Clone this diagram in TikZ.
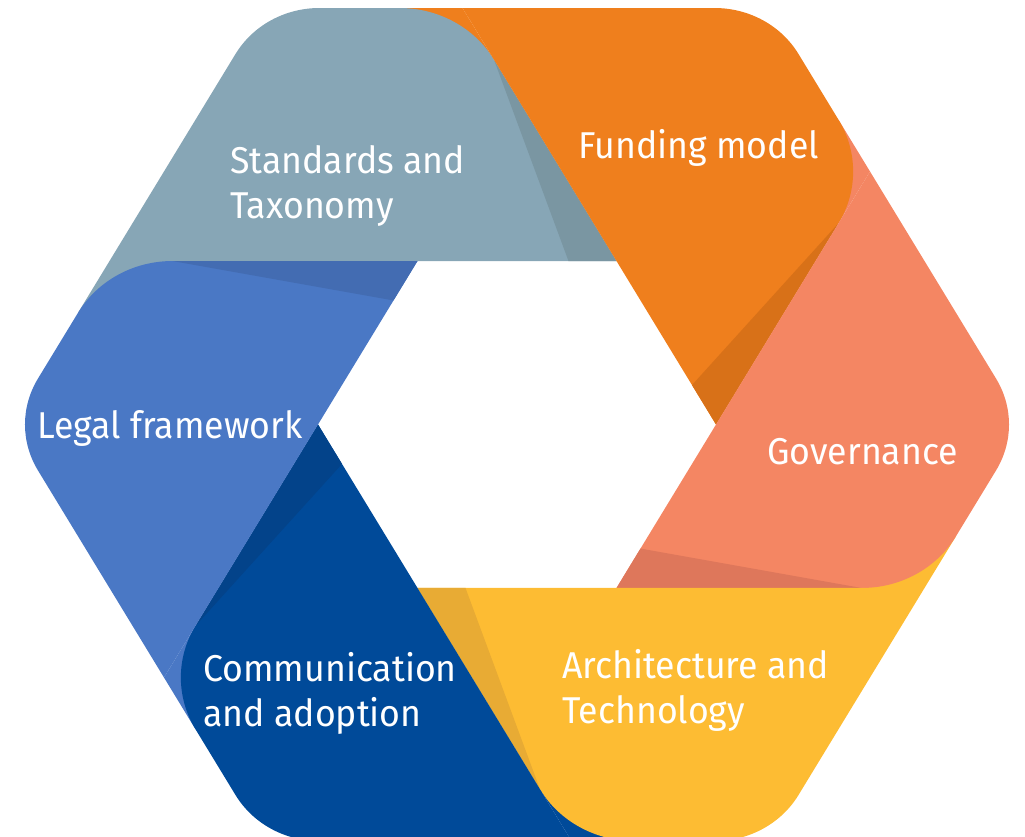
\documentclass[tikz,border=0pt]{standalone}
\usepackage{fontspec}
\setmainfont{Fira Sans}[FakeStretch=0.955]
\definecolor{cGrey}{HTML}{87A6B6}
\definecolor{cGreyD}{HTML}{7A96A2}
\definecolor{cOrange}{HTML}{EF7F1D}
\definecolor{cOrangeD}{HTML}{D87118}
\definecolor{cSalmon}{HTML}{F48663}
\definecolor{cSalmonD}{HTML}{DE775B}
\definecolor{cYellow}{HTML}{FDBC33}
\definecolor{cYellowD}{HTML}{E8AB34}
\definecolor{cNavy}{HTML}{004A99}
\definecolor{cNavyD}{HTML}{03438A}
\definecolor{cBlue}{HTML}{4A78C5}
\definecolor{cBlueD}{HTML}{436CB2}
\begin{document}
\begin{tikzpicture}[x=0.75pt,y=-0.75pt,
  seglabel/.style={text=white, inner sep=0pt, anchor=base west, align=left,
    font=\fontsize{28}{33.75}\selectfont}]
\useasboundingbox (0,0) rectangle (1025,836);
\clip (0,0) rectangle (1025,836);
\begin{scope}[shift={(517,424.5)}, yscale=-0.9486]
  % patches of the following segment, under each rounded end corner
  \foreach \k/\nx in {0/cOrange,1/cSalmon,2/cYellow,3/cNavy,4/cBlue,5/cGrey}{
    \begin{scope}[rotate=60*\k]
      \fill[\nx] (-117.5,439.07) -- (-54.5,439.07) -- (-23,384.51) -- cycle;
    \end{scope}
  }
  % the six segments
  \foreach \k/\cm/\cd in {0/cGrey/cGreyD,1/cOrange/cOrangeD,2/cSalmon/cSalmonD,
                          3/cYellow/cYellowD,4/cNavy/cNavyD,5/cBlue/cBlueD}{
    \begin{scope}[rotate=60*\k]
      \fill[\cm] (-407.5,172.34) -- (-281.5,390.57)
        .. controls (-264.14,420.64) and (-232.22,439.07) .. (-197.5,439.07)
        -- (-117.5,439.07)
        .. controls (-78.44,439.07) and (-42.53,418.34) .. (-23,384.51)
        -- (99.5,172.34) -- cycle;
      \fill[\cd] (-23,384.51) -- (99.5,172.34) -- (51.5,172.34) -- cycle;
    \end{scope}
  }
\end{scope}
\node[seglabel] (std) at (230,218) {Standards and\\Taxonomy};
\node[seglabel] (fund) at (578,158) {Funding model};
\node[seglabel] (gov) at (767,464) {Governance};
\node[seglabel] (arch) at (562,723) {Architecture and\\Technology};
\node[seglabel] (comm) at (203,726) {Communication\\and adoption};
\node[seglabel] (legal) at (37,438) {Legal framework};
\end{tikzpicture}
\end{document}
